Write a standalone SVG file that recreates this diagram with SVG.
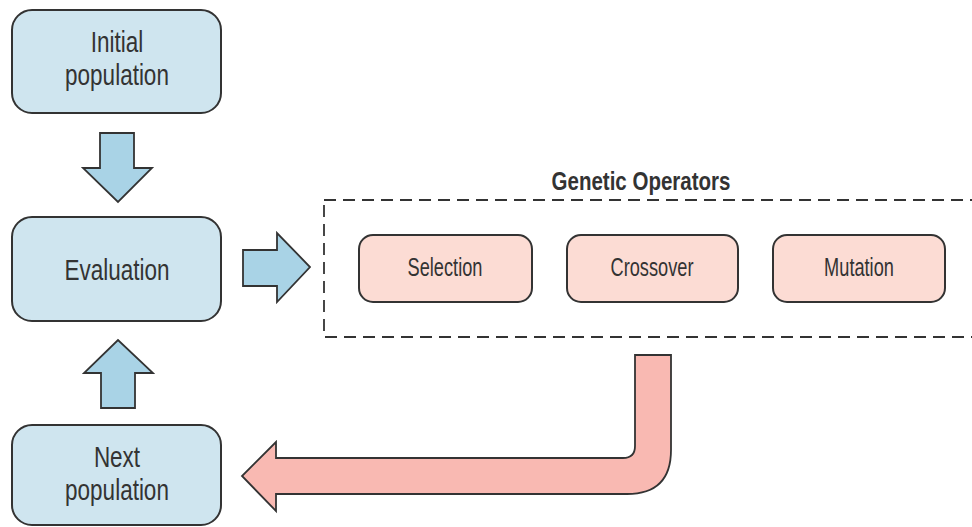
<svg xmlns="http://www.w3.org/2000/svg" width="972" height="527" viewBox="0 0 972 527">
<style>
.bnode{fill:#cfe5ef;stroke:#333;stroke-width:2}
.pnode{fill:#fcdcd4;stroke:#333;stroke-width:2}
.barrow{fill:#a9d3e6;stroke:#333;stroke-width:1.8;stroke-linejoin:miter}
.parrow{fill:#f9b9b2;stroke:#333;stroke-width:1.8}
.t{font-family:"Liberation Sans",Arial,sans-serif;fill:#333;text-anchor:middle}
.big{font-size:30px}
.small{font-size:26px}
.title{font-size:25px;font-weight:bold}
</style>
<rect width="972" height="527" fill="#fff"/>
<g id="initial">
<rect class="bnode" x="12" y="10" width="209" height="103" rx="20"/>
<text class="t big" transform="translate(117,52) scale(0.75,1)">Initial</text>
<text class="t big" transform="translate(117,85) scale(0.75,1)">population</text>
</g>
<g id="evaluation">
<rect class="bnode" x="12" y="217" width="209" height="104" rx="20"/>
<text class="t big" transform="translate(117,280) scale(0.75,1)">Evaluation</text>
</g>
<g id="next">
<rect class="bnode" x="12" y="425" width="209" height="100" rx="20"/>
<text class="t big" transform="translate(117,467) scale(0.75,1)">Next</text>
<text class="t big" transform="translate(117,500) scale(0.75,1)">population</text>
</g>
<g id="operators">
<rect x="324" y="200" width="660" height="137" fill="none" stroke="#333" stroke-width="1.8" stroke-dasharray="12,7"/>
<text class="t title" transform="translate(641,190) scale(0.82,1)">Genetic Operators</text>
</g>
<g id="selection">
<rect class="pnode" x="359" y="235" width="173" height="67" rx="14"/>
<text class="t small" transform="translate(445,276) scale(0.7,1)">Selection</text>
</g>
<g id="crossover">
<rect class="pnode" x="567" y="235" width="171" height="67" rx="14"/>
<text class="t small" transform="translate(652,276) scale(0.7,1)">Crossover</text>
</g>
<g id="mutation">
<rect class="pnode" x="773" y="235" width="172" height="67" rx="14"/>
<text class="t small" transform="translate(859,276) scale(0.7,1)">Mutation</text>
</g>
<g id="connectors">
<path class="barrow" d="M100,133 H134 V168 H152 L118,202 L83,168 H100 Z"/>
<path class="barrow" d="M243,250 H277 V233 L310,267 L277,302 V286 H243 Z"/>
<path class="barrow" d="M101,408 H135 V373 H153 L118,340 L84,373 H101 Z"/>
<path class="parrow" d="M635,355 H671 V450 Q671,494 627,494 H276 V511 L242,476 L276,442 V458 H623 Q635,458 635,446 Z"/>
</g>
</svg>
